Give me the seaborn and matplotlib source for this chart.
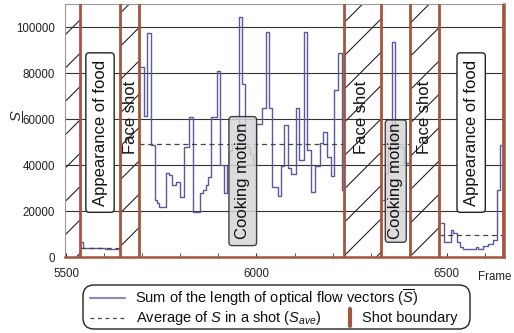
import matplotlib
matplotlib.use("Agg")
import matplotlib.pyplot as plt
import seaborn as sns
import pandas as pd
from matplotlib.patches import FancyBboxPatch
from matplotlib.lines import Line2D
from matplotlib.transforms import IdentityTransform

# ---------------- data ----------------
shot_boundaries = [5537, 5642, 5692, 6230, 6326, 6403, 6480, 6648]

food1_frames = [5537, 5543, 5576, 5602, 5621, 5642]
food1_values = [6400, 4000, 3700, 3500, 3300, 3300]

cook1_frames = [5697, 5705, 5713, 5723, 5734, 5739, 5744, 5762, 5770, 5778,
                5789, 5799, 5810, 5823, 5833, 5852, 5860, 5868, 5873, 5881,
                5896, 5904, 5915, 5922, 5928, 5936, 5953, 5962, 5971, 5983,
                5991, 5999, 6014, 6024, 6033, 6042, 6056, 6064, 6073, 6082,
                6091, 6104, 6112, 6126, 6134, 6143, 6154, 6167, 6175, 6184,
                6196, 6204, 6215, 6224, 6230]
cook1_values = [82700, 61300, 97500, 48700, 25000, 23500, 21700, 36400, 35700, 31300,
                32700, 26200, 47800, 61000, 19500, 28000, 29000, 31300, 35000, 61000,
                81000, 40000, 27800, 40000, 46000, 49000, 104200, 75200, 48000, 45000,
                40000, 58000, 64700, 98000, 64800, 30600, 26700, 39600, 57400, 38600,
                36000, 64600, 42200, 98000, 46500, 28400, 39700, 49400, 54200, 43600,
                35200, 72600, 88600, 29100, 29100]

cook2_frames = [6332, 6337, 6345, 6356, 6365, 6387, 6403]
cook2_values = [24800, 36500, 49000, 93600, 48000, 41000, 41000]

food2_frames = [6484, 6492, 6510, 6517, 6526, 6534, 6542, 6576, 6581, 6595,
                6608, 6621, 6631, 6641, 6647]
food2_values = [14600, 6700, 11700, 10300, 6700, 4500, 3300, 4500, 3300, 4800,
                5800, 7400, 29100, 48700, 48700]

avg_starts = [5537, 5692, 6326, 6480]
avg_ends = [5642, 6230, 6403, 6648]
avg_values = [3800, 49000, 49000, 9500]

hatch_starts = [5497, 5642, 6230, 6403]
hatch_ends = [5537, 5692, 6326, 6480]

face_label = "Face shot"
face_label_x = [5668, 6277, 6442]
food_label = "Appearance of food"
food_label_x = [5589, 6564]
cook_label = "Cooking motion"
cook_label_x = [5964, 6366]

xticks = [5500, 6000, 6500]
yticks = [0, 20000, 40000, 60000, 80000, 100000]

# ---------------- style ----------------
sns.set_style("white")
plt.rcParams["font.family"] = ["Liberation Sans", "DejaVu Sans"]
plt.rcParams["mathtext.fontset"] = "custom"
plt.rcParams["mathtext.rm"] = "Liberation Sans"
plt.rcParams["mathtext.it"] = "Liberation Sans:italic"
plt.rcParams["hatch.linewidth"] = 0.8

BROWN = "#a3553f"
CURVE = "#5a5a9e"

fig = plt.figure(figsize=(5.14, 3.33), dpi=100)
ax = fig.add_axes([65 / 514, 1 - 257 / 333, (503.5 - 65) / 514, (257 - 4) / 333])
ax.set_xlim(5497, 6649)
ax.set_ylim(0, 110000)

# hatched face-shot regions
for s, e in zip(hatch_starts, hatch_ends):
    ax.axvspan(s, e, facecolor="white", edgecolor="#222222", hatch="/",
               linewidth=0, zorder=0)

# grid
for y in yticks[1:]:
    ax.axhline(y, color="#333333", lw=0.8, zorder=0.5)

# curves
for fr, vals in [(food1_frames, food1_values), (cook1_frames, cook1_values),
                 (cook2_frames, cook2_values), (food2_frames, food2_values)]:
    df = pd.DataFrame({"frame": fr, "S": vals})
    sns.lineplot(data=df, x="frame", y="S", ax=ax, color=CURVE, lw=1.0,
                 drawstyle="steps-post", estimator=None, zorder=2)

# averages
for s, e, v in zip(avg_starts, avg_ends, avg_values):
    df = pd.DataFrame({"frame": [s, e], "S": [v, v]})
    sns.lineplot(data=df, x="frame", y="S", ax=ax, color="#444444", lw=0.9,
                 linestyle=(0, (4, 3)), estimator=None, zorder=2)

# shot boundaries
for b in shot_boundaries:
    ax.axvline(b, color=BROWN, lw=2.0, zorder=3)

# annotations
for x in face_label_x:
    ax.text(x, 60500, face_label, rotation=90, ha="center", va="center",
            fontsize=12, color="#111111", zorder=5)
for x in food_label_x:
    ax.text(x, 54100, food_label, rotation=90, ha="center", va="center",
            fontsize=12, color="#111111", zorder=5,
            bbox=dict(boxstyle="round,pad=0.4,rounding_size=0.2", fc="white",
                      ec="#222222", lw=1.0))
for x, pad in zip(cook_label_x, [0.38, 0.18]):
    ax.text(x, 33000, cook_label, rotation=90, ha="center", va="center",
            fontsize=12, color="#111111", zorder=5,
            bbox=dict(boxstyle=f"round,pad={pad},rounding_size=0.2", fc="#d6d6d6",
                      ec="#222222", lw=1.0, alpha=0.85))

# axes styling
ax.set_xticks(xticks)
ax.set_xticks(list(range(5600, 6650, 100)), minor=True)
ax.set_yticks(yticks)
ax.set_xticklabels([str(t) for t in xticks], fontsize=8.3, color="#222222")
ax.set_yticklabels([str(t) for t in yticks], fontsize=8.3, color="#222222")
ax.tick_params(axis="x", which="both", direction="in", length=3, color="#333333",
               pad=8, bottom=True)
ax.tick_params(axis="y", length=0, pad=7)
ax.set_xlabel("")
ax.set_ylabel(r"$\overline{S}$", fontsize=11, rotation=270, labelpad=0)
ax.yaxis.label.set_ha("center")
ax.yaxis.label.set_va("center")
ax.yaxis.set_label_coords(-0.118, 0.56)
for side in ["left", "top"]:
    ax.spines[side].set_color("#999999")
    ax.spines[side].set_linewidth(0.8)
for side in ["bottom", "right"]:
    ax.spines[side].set_color(BROWN)
    ax.spines[side].set_linewidth(1.8)

fig.text(478 / 514, 1 - 277 / 333, "Frame", fontsize=8.3, ha="left", va="center",
         color="#222222")

# legend (drawn manually, in pixel coordinates)
T = IdentityTransform()
fig.add_artist(FancyBboxPatch((83, 4), 387, 44,
                              boxstyle="round,pad=0,rounding_size=11",
                              transform=T, fc="white", ec="#222222", lw=1.0))
fig.add_artist(Line2D([90, 125], [35, 35], transform=T, color="#8a8ac4", lw=1.5))
fig.text(135, 35, r"Sum of the length of optical flow vectors ($\overline{S}$)",
         transform=T, fontsize=10.5, va="center", ha="left", color="#111111")
fig.add_artist(Line2D([90, 125], [15, 15], transform=T, color="#444444", lw=0.9,
                      linestyle=(0, (3, 3))))
fig.text(136, 15, r"Average of $S$ in a shot ($S_{ave}$)",
         transform=T, fontsize=10.5, va="center", ha="left", color="#111111")
fig.add_artist(Line2D([350, 350], [7, 24], transform=T, color=BROWN, lw=3.0))
fig.text(362, 15, "Shot boundary", transform=T, fontsize=10.5, va="center",
         ha="left", color="#111111")

fig.savefig("out.png", dpi=100)
